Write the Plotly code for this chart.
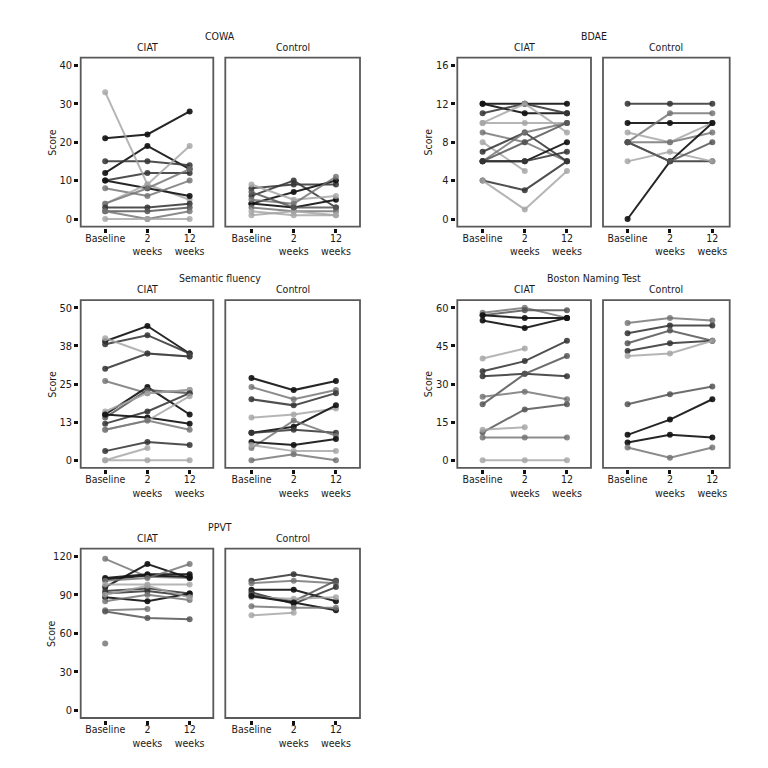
import plotly.graph_objects as go

# ---------------- data ----------------
TIME_LABELS = ["Baseline", "2<br>weeks", "12<br>weeks"]
GROUPS = ["CIAT", "Control"]

# COWA
cowa_ciat = [[21, 22, 28], [12, 19, 13], [15, 15, 14], [10, 12, 12], [33, 9, 5], [10, 8, 6],
             [8, 6, 10], [4, 9, 19], [4, 8, 13], [3, 3, 4], [2, 2, 3], [2, 0, 2], [0, 0, 0]]
cowa_ciat_shade = ["k", "k", "d", "d", "l", "k", "g", "l", "g", "d", "m", "g", "l"]
cowa_ctrl = [[6, 10, 3], [8, 9, 9], [4, 7, 10], [4, 3, 5], [9, 5, 6], [5, 4, 11],
             [3, 2, 2], [2, 1, 1], [1, 2, 1], [7, 3, 3]]
cowa_ctrl_shade = ["d", "d", "k", "k", "l", "g", "g", "l", "l", "m"]

# BDAE
bdae_ciat = [[12, 12, 12], [12, 11, 11], [11, 12, 11], [10, 12, 9], [10, 10, 10], [9, 8, 6],
             [8, 5, None], [7, 9, 6], [6, 9, 10], [6, 8, 10], [6, 6, 8], [6, 6, 7], [4, 3, 6], [4, 1, 5]]
bdae_ciat_shade = ["k", "k", "d", "l", "l", "g", "l", "d", "g", "m", "k", "d", "d", "l"]
bdae_ctrl = [[12, 12, 12], [10, 10, 10], [8, 11, 11], [9, 8, 10], [8, 8, 9], [8, 6, 6],
             [6, 7, 6], [0, 6, 10], [8, 6, 8]]
bdae_ctrl_shade = ["d", "k", "g", "l", "g", "d", "l", "k", "m"]

# Semantic fluency
sem_ciat = [[39, 44, 35], [38, 41, 35], [40, 35, 34], [30, 35, 34], [26, 22, 23], [15, 24, 15],
            [14, 23, 22], [16, 22, 23], [12, 16, 22], [15, 14, 12], [10, 13, 21], [10, 13, 10],
            [3, 6, 5], [0, 4, None], [0, 0, 0]]
sem_ciat_shade = ["k", "d", "l", "d", "g", "k", "m", "l", "d", "k", "l", "g", "d", "l", "l"]
sem_ctrl = [[27, 23, 26], [24, 20, 23], [20, 18, 22], [14, 15, 17], [9, 11, 18], [9, 10, 9],
            [4, 13, 8], [6, 5, 7], [5, 3, 3], [0, 2, 0]]
sem_ctrl_shade = ["k", "g", "d", "l", "k", "d", "g", "k", "l", "g"]

# Boston Naming Test
bnt_ciat = [[58, 60, 56], [57, 59, 59], [57, 56, 56], [55, 52, 56], [40, 44, None], [35, 39, 47],
            [33, 34, 33], [22, 34, 41], [25, 27, 24], [11, 20, 22], [12, 13, None], [9, 9, 9], [0, 0, 0]]
bnt_ciat_shade = ["g", "m", "k", "k", "l", "d", "d", "m", "g", "m", "l", "g", "l"]
bnt_ctrl = [[54, 56, 55], [50, 53, 53], [46, 51, 47], [43, 46, 47], [41, 42, 47], [22, 26, 29],
            [10, 16, 24], [7, 10, 9], [5, 1, 5]]
bnt_ctrl_shade = ["g", "d", "m", "d", "l", "m", "k", "k", "g"]

# PPVT
ppvt_ciat = [[118, 104, 103], [103, 106, 106], [102, 105, 104], [96, 114, 103], [101, 103, 114],
             [98, 98, 98], [93, 95, 91], [91, 93, 89], [88, 85, 91], [85, 90, 86], [90, 97, 88],
             [78, 79, None], [77, 72, 71], [52, None, None]]
ppvt_ciat_shade = ["g", "k", "k", "k", "g", "l", "d", "d", "k", "g", "l", "g", "m", "g"]
ppvt_ctrl = [[101, 106, 101], [99, 101, 99], [94, 94, 85], [92, 83, 96], [90, 85, 101],
             [88, 87, 88], [89, 84, 78], [81, 80, 80], [74, 76, None]]
ppvt_ctrl_shade = ["d", "g", "k", "d", "m", "l", "k", "g", "l"]

PANELS = [
    dict(title="COWA", row=0, col=0, ciat=cowa_ciat, ciat_s=cowa_ciat_shade, ctrl=cowa_ctrl,
         ctrl_s=cowa_ctrl_shade, tickvals=[0, 10, 20, 30, 40], ticktext=["0", "10", "20", "30", "40"],
         yrange=[-2, 42]),
    dict(title="BDAE", row=0, col=1, ciat=bdae_ciat, ciat_s=bdae_ciat_shade, ctrl=bdae_ctrl,
         ctrl_s=bdae_ctrl_shade, tickvals=[0, 4, 8, 12, 16], ticktext=["0", "4", "8", "12", "16"],
         yrange=[-0.8, 16.8]),
    dict(title="Semantic fluency", row=1, col=0, ciat=sem_ciat, ciat_s=sem_ciat_shade, ctrl=sem_ctrl,
         ctrl_s=sem_ctrl_shade, tickvals=[0, 12.5, 25, 37.5, 50], ticktext=["0", "13", "25", "38", "50"],
         yrange=[-2.5, 52.5]),
    dict(title="Boston Naming Test", row=1, col=1, ciat=bnt_ciat, ciat_s=bnt_ciat_shade, ctrl=bnt_ctrl,
         ctrl_s=bnt_ctrl_shade, tickvals=[0, 15, 30, 45, 60], ticktext=["0", "15", "30", "45", "60"],
         yrange=[-3, 63]),
    dict(title="PPVT", row=2, col=0, ciat=ppvt_ciat, ciat_s=ppvt_ciat_shade, ctrl=ppvt_ctrl,
         ctrl_s=ppvt_ctrl_shade, tickvals=[0, 30, 60, 90, 120], ticktext=["0", "30", "60", "90", "120"],
         yrange=[-6, 126]),
]

# ---------------- styling / layout ----------------
W = 768.0
FONT = "Liberation Sans Narrow, DejaVu Sans Condensed, Arial Narrow, sans-serif"
FS = 10.5
TXT = "#1a1a1a"
SHADES = {"k": "rgba(20,20,20,0.92)", "d": "rgba(55,55,55,0.88)", "m": "rgba(85,85,85,0.85)",
          "g": "rgba(115,115,115,0.82)", "l": "rgba(165,165,165,0.82)"}

ROWS_PX = [(49.6, 218.7), (292.1, 459.9), (540.6, 710.0)]
# (left, right, range0, range1) for CIAT box and Control box per column
COLS_PX = [
    [(72.7, 205.3, -0.58, 2.56), (217.3, 352.0, -0.62, 2.57)],
    [(449.3, 583.0, -0.60, 2.57), (595.0, 721.7, -0.58, 2.41)],
]

fig = go.Figure()
layout = dict(
    width=768, height=768, margin=dict(l=0, r=0, t=0, b=0),
    paper_bgcolor="white", plot_bgcolor="white", showlegend=False,
    font=dict(family=FONT, size=FS, color=TXT),
)
annotations = []
shapes = []
xs = list(range(len(TIME_LABELS)))

n = 0
for p in PANELS:
    top, bot = ROWS_PX[p["row"]]
    boxes = COLS_PX[p["col"]]
    for gi, (grp, data, shades) in enumerate([("CIAT", p["ciat"], p["ciat_s"]),
                                              ("Control", p["ctrl"], p["ctrl_s"])]):
        n += 1
        sfx = "" if n == 1 else str(n)
        L, R, r0, r1 = boxes[gi]
        layout["xaxis" + sfx] = dict(
            domain=[L / W, R / W], range=[r0, r1], anchor="free", position=1 - (bot + 1.5) / W,
            tickvals=xs, ticktext=TIME_LABELS, ticks="outside", ticklen=4, tickwidth=2.6,
            tickcolor="#111", showline=False, showgrid=False, zeroline=False, fixedrange=True,
            ticklabelstandoff=-4,
            tickfont=dict(family=FONT, size=FS, color=TXT),
        )
        layout["yaxis" + sfx] = dict(
            domain=[1 - bot / W, 1 - top / W], range=p["yrange"], anchor="free",
            position=max(0, (L - 2.5) / W),
            tickvals=p["tickvals"], ticktext=p["ticktext"],
            ticks="outside" if gi == 0 else "", showticklabels=(gi == 0),
            ticklen=4, tickwidth=2.6, tickcolor="#111",
            showline=False, showgrid=False, zeroline=False, fixedrange=True,
            tickfont=dict(family=FONT, size=FS + 0.5, color=TXT),
        )
        for vals, s in zip(data, shades):
            fig.add_trace(go.Scatter(
                x=xs, y=vals, mode="lines+markers", xaxis="x" + sfx, yaxis="y" + sfx,
                line=dict(color=SHADES[s], width=2),
                marker=dict(color=SHADES[s], size=6),
                connectgaps=False, hoverinfo="skip",
            ))
        shapes.append(dict(type="rect", xref="x" + sfx + " domain", yref="y" + sfx + " domain",
                           x0=0, x1=1, y0=0, y1=1, line=dict(color="#595959", width=1.8),
                           fillcolor="rgba(0,0,0,0)", layer="above"))
        annotations.append(dict(text=grp, x=(L + R) / 2 / W, y=1 - (top - 10.6) / W,
                                xref="paper", yref="paper", showarrow=False,
                                xanchor="center", yanchor="middle",
                                font=dict(family=FONT, size=FS, color=TXT)))
    # panel title
    Lp = boxes[0][0]
    Rp = boxes[1][1]
    annotations.append(dict(text=p["title"], x=(Lp + Rp) / 2 / W, y=1 - (top - 22) / W,
                            xref="paper", yref="paper", showarrow=False,
                            xanchor="center", yanchor="middle",
                            font=dict(family=FONT, size=FS, color=TXT)))
    # Score label
    annotations.append(dict(text="Score", x=(Lp - 29) / W, y=1 - (top + bot) / 2 / W,
                            xref="paper", yref="paper", showarrow=False, textangle=-90,
                            xanchor="center", yanchor="middle",
                            font=dict(family=FONT, size=FS, color=TXT)))

layout["annotations"] = annotations
layout["shapes"] = shapes
fig.update_layout(**layout)
fig.write_html("out.html")
